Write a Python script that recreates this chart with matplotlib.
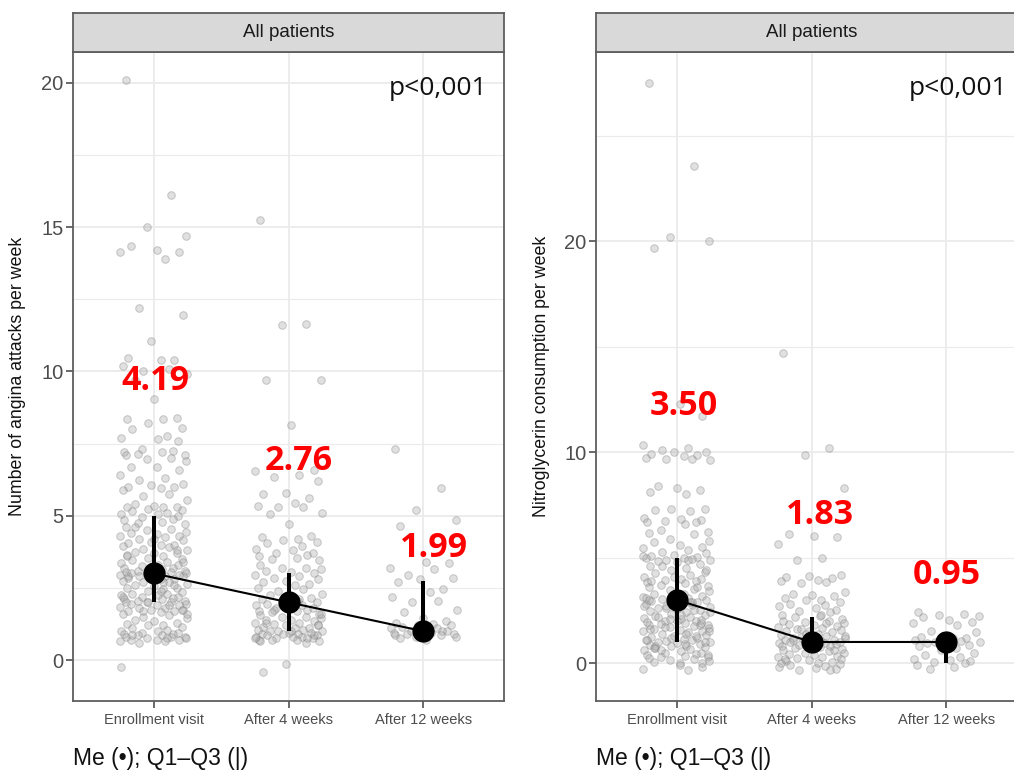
import matplotlib
matplotlib.use("Agg")
import matplotlib.pyplot as plt
import numpy as np

# ---------------- data ----------------
categories = ["Enrollment visit", "After 4 weeks", "After 12 weeks"]

# Panel 1: angina attacks per week (individual observations)
angina_enroll = [20.1, 16.1, 15.0, 14.7, 14.35, 14.2, 14.15, 14.15, 13.9, 12.2, 11.95, 11.05,
                 10.45, 10.4, 10.4, 10.2, 10.1, 10.0, 9.9, 9.7, 9.05,
                 8.4, 8.35, 8.35, 8.2, 8.05, 8.0, 7.75, 7.7, 7.65, 7.6, 7.3, 7.25, 7.2, 7.2, 7.15,
                 7.1, 7.1, 7.0, 6.95, 6.9, 6.7, 6.7, 6.6, 6.4, 6.3, 6.25, 6.1, 6.05, 6.0, 6.0, 5.95,
                 5.9, 5.75, 5.7, 5.55, 5.4, 5.35, 5.3, 5.3, 5.3, 5.25, 5.2, 5.15, 5.1, 5.05, 5.05,
                 5.0, 4.95, 4.9, 4.85, 4.8, 4.75, 4.7, 4.6, 4.55, 4.5, 4.45, 4.4, 4.35, 4.3, 4.3,
                 4.25, 4.2, 4.15, 4.1, 4.05, 4.0, 4.0, 3.95, 3.9, 3.85, 3.8, 3.75, 3.7, 3.7, 3.65,
                 3.6, 3.55, 3.5, 3.45, 3.4, 3.35, 3.3, 3.3, 3.25, 3.2, 3.2, 3.15, 3.1, 3.1, 3.05,
                 3.05, 3.0, 3.0, 3.0, 3.0, 2.95, 2.95, 2.9, 2.9, 2.9, 2.85, 2.85, 2.8, 2.8, 2.75,
                 2.7, 2.7, 2.65, 2.6, 2.55, 2.5, 2.5, 2.45, 2.4, 2.35, 2.3, 2.3, 2.25, 2.25, 2.2,
                 2.2, 2.15, 2.1, 2.1, 2.05, 2.05, 2.0, 2.0, 2.0, 1.95, 1.95, 1.9, 1.9, 1.85, 1.8,
                 1.8, 1.75, 1.75, 1.7, 1.7, 1.65, 1.6, 1.55, 1.5, 1.45, 1.4, 1.35, 1.3, 1.25, 1.2,
                 1.2, 1.15, 1.1, 1.05, 1.0, 1.0, 0.95, 0.95, 0.9, 0.9, 0.85, 0.85, 0.8, 0.8, 0.8,
                 0.75, 0.75, 0.7, 0.7, 0.7, 0.65, 0.65, 0.6, 3.4, 3.1, 2.9, 2.6, 2.4, 2.2, 1.9,
                 1.7, 1.6, 4.6, 4.2, 3.8, 3.6, 2.7, 2.0, 1.75, 0.85, 0.75, -0.25]
angina_4w = [15.25, 11.65, 11.6, 9.7, 9.7, 8.15, 6.6, 6.55, 6.4, 6.35, 6.2, 5.8, 5.75, 5.6, 5.45,
             5.35, 5.3, 5.3, 5.1, 5.05, 4.7, 4.3, 4.25, 4.2, 4.15, 4.1, 4.05, 3.95, 3.85, 3.8, 3.7,
             3.7, 3.65, 3.6, 3.55, 3.5, 3.45, 3.3, 3.2, 3.2, 3.15, 3.1, 3.05, 3.0, 2.95, 2.9, 2.85,
             2.8, 2.75, 2.7, 2.65, 2.6, 2.5, 2.45, 2.4, 2.3, 2.25, 2.2, 2.15, 2.1, 2.05, 2.0, 2.0,
             1.95, 1.9, 1.9, 1.85, 1.8, 1.8, 1.75, 1.7, 1.7, 1.65, 1.6, 1.55, 1.5, 1.5, 1.45, 1.4,
             1.4, 1.35, 1.3, 1.3, 1.25, 1.2, 1.2, 1.15, 1.1, 1.1, 1.05, 1.05, 1.0, 1.0, 1.0, 0.95,
             0.95, 0.9, 0.9, 0.9, 0.85, 0.85, 0.8, 0.8, 0.8, 0.75, 0.75, 0.75, 0.7, 0.7, 0.7, 0.65,
             0.65, 0.6, 1.9, 1.6, 1.3, 1.0, 0.85, 0.75, 2.1, 1.75, 1.2, -0.15, -0.4]
angina_12w = [7.3, 5.95, 5.2, 4.85, 4.65, 3.4, 3.35, 3.2, 3.15, 2.95, 2.85, 2.8, 2.7, 2.45, 2.35,
              2.2, 2.05, 2.0, 1.75, 1.65, 1.45, 1.35, 1.3, 1.25, 1.2, 1.2, 1.15, 1.1, 1.1, 1.05,
              1.0, 1.0, 1.0, 0.95, 0.95, 0.9, 0.9, 0.85, 0.85, 0.8, 0.8, 0.75, 0.7]

# Panel 2: nitroglycerin consumption per week
nitro_enroll = [27.5, 23.6, 20.2, 20.0, 19.7, 12.3, 11.7, 10.35, 10.2, 10.1, 10.0, 10.0, 9.9,
                9.85, 9.8, 9.75, 9.7, 9.7, 9.65, 8.4, 8.3, 8.2, 8.1, 8.0, 7.3, 7.3, 7.25, 7.2, 6.9,
                6.85, 6.8, 6.75, 6.7, 6.7, 6.6, 6.3, 6.2, 6.15, 6.1, 5.9, 5.8, 5.75, 5.6, 5.5,
                5.45, 5.35, 5.25, 5.2, 5.15, 5.1, 5.05, 5.0, 5.0, 4.95, 4.9, 4.9, 4.85, 4.8, 4.7,
                4.6, 4.5, 4.4, 4.3, 4.25, 4.2, 4.1, 4.0, 4.0, 3.95, 3.9, 3.85, 3.8, 3.7, 3.65, 3.6,
                3.5, 3.45, 3.4, 3.3, 3.3, 3.2, 3.15, 3.1, 3.05, 3.0, 3.0, 2.95, 2.9, 2.85, 2.8,
                2.75, 2.7, 2.65, 2.6, 2.55, 2.5, 2.45, 2.4, 2.35, 2.3, 2.25, 2.2, 2.15, 2.1, 2.05,
                2.0, 2.0, 1.95, 1.9, 1.85, 1.8, 1.8, 1.75, 1.7, 1.65, 1.6, 1.55, 1.5, 1.5, 1.45,
                1.4, 1.35, 1.3, 1.25, 1.2, 1.15, 1.1, 1.1, 1.05, 1.0, 1.0, 0.95, 0.9, 0.85, 0.8,
                0.8, 0.75, 0.7, 0.65, 0.6, 0.55, 0.5, 0.5, 0.45, 0.4, 0.35, 0.3, 0.3, 0.25, 0.2,
                0.15, 0.1, 0.05, 0.0, 0.0, 5.1, 4.9, 4.6, 4.4, 4.1, 3.9, 3.6, 3.3, 3.1, 2.9, 2.6,
                2.4, 2.2, 2.0, 1.8, 1.6, 1.4, 1.2, 1.0, 0.8, 2.9, 2.7, 2.3, 1.9, 1.7, 1.3, 1.1,
                0.9, 0.6, 0.4, 3.0, 2.5, 2.1, 1.5, 0.7, -0.1, -0.2, -0.3, -0.35]
nitro_4w = [14.7, 10.2, 9.85, 8.3, 6.1, 6.05, 6.0, 5.65, 5.0, 4.9, 4.2, 4.15, 4.1, 4.05, 3.95,
            3.9, 3.85, 3.8, 3.35, 3.3, 3.25, 3.2, 3.1, 3.0, 3.0, 2.9, 2.8, 2.75, 2.7, 2.6, 2.5,
            2.45, 2.4, 2.3, 2.25, 2.2, 2.1, 2.0, 2.0, 1.95, 1.9, 1.85, 1.8, 1.75, 1.7, 1.65, 1.6,
            1.55, 1.5, 1.5, 1.45, 1.4, 1.35, 1.3, 1.25, 1.2, 1.2, 1.15, 1.1, 1.1, 1.05, 1.0, 1.0,
            1.0, 0.95, 0.95, 0.9, 0.9, 0.85, 0.8, 0.8, 0.75, 0.7, 0.65, 0.6, 0.55, 0.5, 0.5, 0.45,
            0.4, 0.35, 0.3, 0.3, 0.25, 0.2, 0.15, 0.1, 0.05, 0.0, 0.0, 1.9, 1.6, 1.3, 1.1, 0.9,
            0.6, 0.2, 2.3, 1.4, -0.05, -0.1, -0.15, -0.2, -0.25, -0.3, -0.35, -0.35]
nitro_12w = [2.4, 2.35, 2.3, 2.25, 2.2, 2.05, 1.95, 1.9, 1.8, 1.5, 1.45, 1.3, 1.25, 1.2, 1.2, 1.1,
             1.05, 1.0, 1.0, 0.95, 0.9, 0.85, 0.8, 0.7, 0.6, 0.5, 0.4, 0.3, 0.2, 0.15, 0.1, 0.05,
             0.0, -0.1, -0.2, -0.3]

# summary statistics: median, Q1, Q3, mean
angina_median = [3.0, 2.0, 1.0]
angina_q1 = [2.0, 1.0, 1.0]
angina_q3 = [5.0, 3.0, 2.75]
angina_mean = [4.19, 2.76, 1.99]

nitro_median = [3.0, 1.0, 1.0]
nitro_q1 = [1.0, 1.0, 0.0]
nitro_q3 = [5.0, 2.2, 1.0]
nitro_mean = [3.50, 1.83, 0.95]

p_text = "p<0,001"
strip_title = "All patients"
ylabels = ["Number of angina attacks per week", "Nitroglycerin consumption per week"]
legend_text = "Me (•); Q1–Q3 (|)"

# jitter offsets (horizontal spread of observed points)
jitter = [-0.21, 0.13, -0.05, 0.24, -0.17, 0.02, 0.19, -0.25, 0.08, -0.11, 0.22, -0.02, -0.19,
          0.15, 0.05, -0.23, 0.11, -0.08, 0.25, -0.14, 0.00, 0.17, -0.20, 0.07, -0.04, 0.21,
          -0.16, 0.10, -0.24, 0.03, 0.18, -0.09, 0.14, -0.22, 0.06, -0.12, 0.23]

# ---------------- layout ----------------
W, H = 1014, 771
fig = plt.figure(figsize=(W / 100, H / 100), dpi=100)
fig.patch.set_facecolor("white")

def fx(px):
    return px / W

def fy(py):
    return 1 - py / H

panels = [
    dict(left=73, groups=[angina_enroll, angina_4w, angina_12w], med=angina_median,
         q1=angina_q1, q3=angina_q3, mean=angina_mean, ylim=(-1.42, 21.07),
         major=[0, 5, 10, 15, 20], minor=[2.5, 7.5, 12.5, 17.5],
         lab_x=[1.015, 2.078, 3.08], lab_y=[9.36, 6.59, 3.57], ptx=0.9606,
         ylab=ylabels[0], ylab_x=18),
    dict(left=596, groups=[nitro_enroll, nitro_4w, nitro_12w], med=nitro_median,
         q1=nitro_q1, q3=nitro_q3, mean=nitro_mean, ylim=(-1.80, 28.99),
         major=[0, 10, 20], minor=[5, 15, 25],
         lab_x=[1.05, 2.063, 3.007], lab_y=[11.77, 6.6, 3.75], ptx=0.9536,
         ylab=ylabels[1], ylab_x=541),
]

panel_w = 431
top, bottom = 52, 701
strip_top = 13
grid_col = "#EBEBEB"
border_col = "#5E5E5E"
tick_col = "#4D4D4D"

for p in panels:
    ax = fig.add_axes([fx(p["left"]), fy(bottom), panel_w / W, (bottom - top) / H])
    ax.set_xlim(0.4, 3.6)
    ax.set_ylim(*p["ylim"])
    for y in p["major"]:
        ax.axhline(y, color=grid_col, lw=1.3, zorder=0)
    for y in p["minor"]:
        ax.axhline(y, color=grid_col, lw=0.8, zorder=0)
    for x in [1, 2, 3]:
        ax.axvline(x, color=grid_col, lw=1.3, zorder=0)

    for i, vals in enumerate(p["groups"]):
        xs = [i + 1 + jitter[k % len(jitter)] for k in range(len(vals))]
        ax.scatter(xs, vals, s=30, facecolor=(0.66, 0.66, 0.66, 0.35),
                   edgecolor=(0.5, 0.5, 0.5, 0.4), linewidths=0.7, zorder=2)

    xpos = [1, 2, 3]
    ax.plot(xpos, p["med"], color="black", lw=1.5, zorder=3)
    ax.vlines(xpos, p["q1"], p["q3"], color="black", lw=2.9, zorder=4)
    ax.plot(xpos, p["med"], "o", color="black", ms=15, zorder=5)

    for i, m in enumerate(p["mean"]):
        ax.text(p["lab_x"][i], p["lab_y"][i], f"{m:.2f}", color="#FF0000",
                fontsize=24.5, fontweight="bold", family="Open Sans",
                ha="center", va="baseline", zorder=6)

    ax.text(p["ptx"], 0.9445, p_text, transform=ax.transAxes, ha="right", va="center",
            fontsize=19, family="Open Sans", color="#111111")

    ax.set_xticks(xpos)
    ax.set_xticklabels(categories, fontsize=10.5, color=tick_col, family="Liberation Sans")
    ax.set_yticks(p["major"])
    ax.set_yticklabels([str(v) for v in p["major"]], fontsize=14.5, color=tick_col,
                       family="Liberation Sans")
    ax.tick_params(axis="both", direction="out", length=5, width=1.3, color=border_col,
                   pad=2)
    ax.tick_params(axis="x", pad=4)
    for s in ax.spines.values():
        s.set_color(border_col)
        s.set_linewidth(1.3)

    fig.text(fx(p["ylab_x"]), fy((top + bottom) / 2), p["ylab"], rotation=90,
             ha="center", va="center", fontsize=12.8, family="Liberation Sans",
             color="#111111")

    sax = fig.add_axes([fx(p["left"]), fy(top), panel_w / W, (top - strip_top) / H])
    sax.set_facecolor("#D9D9D9")
    sax.set_xticks([])
    sax.set_yticks([])
    for s in sax.spines.values():
        s.set_color(border_col)
        s.set_linewidth(1.3)
    sax.text(0.5, 0.5, strip_title, transform=sax.transAxes, ha="center", va="center",
             fontsize=13.5, family="Liberation Sans", color="#1A1A1A")

    fig.text(fx(p["left"]), fy(758), legend_text, ha="left", va="center", fontsize=16.5,
             family=["Liberation Sans", "DejaVu Sans"], color="#111111")

fig.savefig("out.png", dpi=100)
